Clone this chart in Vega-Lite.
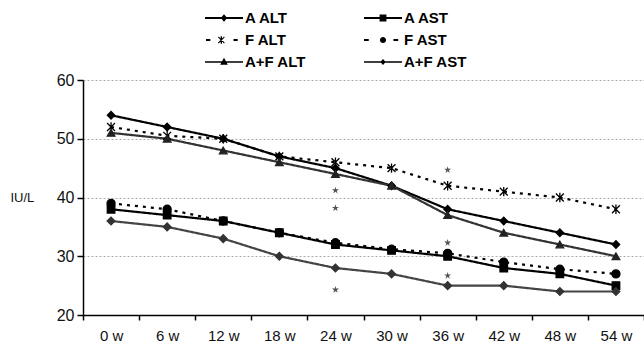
{
  "$schema": "https://vega.github.io/schema/vega-lite/v6.json",
  "width": 561,
  "height": 235,
  "autosize": "none",
  "padding": {"left": 83, "top": 80, "right": 0, "bottom": 39},
  "background": "white",
  "config": {"view": {"stroke": null}, "font": "Liberation Sans"},
  "datasets": {
    "main": [
      {"week": "0 w", "series": "A ALT", "value": 54},
      {"week": "6 w", "series": "A ALT", "value": 52},
      {"week": "12 w", "series": "A ALT", "value": 50},
      {"week": "18 w", "series": "A ALT", "value": 47},
      {"week": "24 w", "series": "A ALT", "value": 45},
      {"week": "30 w", "series": "A ALT", "value": 42},
      {"week": "36 w", "series": "A ALT", "value": 38},
      {"week": "42 w", "series": "A ALT", "value": 36},
      {"week": "48 w", "series": "A ALT", "value": 34},
      {"week": "54 w", "series": "A ALT", "value": 32},
      {"week": "0 w", "series": "A AST", "value": 38},
      {"week": "6 w", "series": "A AST", "value": 37},
      {"week": "12 w", "series": "A AST", "value": 36},
      {"week": "18 w", "series": "A AST", "value": 34},
      {"week": "24 w", "series": "A AST", "value": 32},
      {"week": "30 w", "series": "A AST", "value": 31},
      {"week": "36 w", "series": "A AST", "value": 30},
      {"week": "42 w", "series": "A AST", "value": 28},
      {"week": "48 w", "series": "A AST", "value": 27},
      {"week": "54 w", "series": "A AST", "value": 25},
      {"week": "0 w", "series": "F ALT", "value": 52},
      {"week": "6 w", "series": "F ALT", "value": 50.5},
      {"week": "12 w", "series": "F ALT", "value": 50},
      {"week": "18 w", "series": "F ALT", "value": 47},
      {"week": "24 w", "series": "F ALT", "value": 46},
      {"week": "30 w", "series": "F ALT", "value": 45},
      {"week": "36 w", "series": "F ALT", "value": 42},
      {"week": "42 w", "series": "F ALT", "value": 41},
      {"week": "48 w", "series": "F ALT", "value": 40},
      {"week": "54 w", "series": "F ALT", "value": 38},
      {"week": "0 w", "series": "F AST", "value": 39},
      {"week": "6 w", "series": "F AST", "value": 38},
      {"week": "12 w", "series": "F AST", "value": 36},
      {"week": "18 w", "series": "F AST", "value": 34},
      {"week": "24 w", "series": "F AST", "value": 32.3},
      {"week": "30 w", "series": "F AST", "value": 31.2},
      {"week": "36 w", "series": "F AST", "value": 30.5},
      {"week": "42 w", "series": "F AST", "value": 29},
      {"week": "48 w", "series": "F AST", "value": 27.8},
      {"week": "54 w", "series": "F AST", "value": 27},
      {"week": "0 w", "series": "A+F ALT", "value": 51},
      {"week": "6 w", "series": "A+F ALT", "value": 50},
      {"week": "12 w", "series": "A+F ALT", "value": 48},
      {"week": "18 w", "series": "A+F ALT", "value": 46},
      {"week": "24 w", "series": "A+F ALT", "value": 44},
      {"week": "30 w", "series": "A+F ALT", "value": 42},
      {"week": "36 w", "series": "A+F ALT", "value": 37},
      {"week": "42 w", "series": "A+F ALT", "value": 34},
      {"week": "48 w", "series": "A+F ALT", "value": 32},
      {"week": "54 w", "series": "A+F ALT", "value": 30},
      {"week": "0 w", "series": "A+F AST", "value": 36},
      {"week": "6 w", "series": "A+F AST", "value": 35},
      {"week": "12 w", "series": "A+F AST", "value": 33},
      {"week": "18 w", "series": "A+F AST", "value": 30},
      {"week": "24 w", "series": "A+F AST", "value": 28},
      {"week": "30 w", "series": "A+F AST", "value": 27},
      {"week": "36 w", "series": "A+F AST", "value": 25},
      {"week": "42 w", "series": "A+F AST", "value": 25},
      {"week": "48 w", "series": "A+F AST", "value": 24},
      {"week": "54 w", "series": "A+F AST", "value": 24}
    ],
    "stars": [
      {"week": "24 w", "value": 41.2},
      {"week": "24 w", "value": 38.2},
      {"week": "24 w", "value": 24.3},
      {"week": "36 w", "value": 44.7},
      {"week": "36 w", "value": 32.3},
      {"week": "36 w", "value": 26.7}
    ]
  },
  "encoding": {
    "x": {
      "field": "week", "type": "ordinal",
      "sort": ["0 w", "6 w", "12 w", "18 w", "24 w", "30 w", "36 w", "42 w", "48 w", "54 w"],
      "scale": {"type": "band", "paddingInner": 0, "paddingOuter": 0},
      "bandPosition": 0.5,
      "axis": {
        "title": null, "labelAngle": 0, "tickBand": "extent", "grid": false,
        "domainColor": "black", "domainWidth": 1.5, "tickColor": "black", "tickWidth": 1.5, "tickSize": 5,
        "labelFontSize": 15, "labelColor": "#111", "labelPadding": 8
      }
    },
    "y": {
      "field": "value", "type": "quantitative",
      "scale": {"domain": [20, 60]},
      "axis": {
        "values": [20, 30, 40, 50, 60],
        "title": "IU/L", "titleAngle": 0, "titleX": -73, "titleY": 117,
        "titleAlign": "left", "titleBaseline": "middle", "titleFontWeight": "normal",
        "titleFontSize": 13, "titleColor": "#111",
        "grid": true, "gridDash": [2, 2], "gridColor": "#aaa",
        "domainColor": "black", "domainWidth": 1.5, "tickColor": "black", "tickWidth": 1.5, "tickSize": 6,
        "labelFontSize": 16, "labelColor": "#111", "labelPadding": 3
      }
    }
  },
  "resolve": {"scale": {"shape": "independent"}},
  "layer": [
    {
      "data": {"name": "main"},
      "mark": {"type": "line", "strokeCap": "butt"},
      "encoding": {
        "detail": {"field": "series"},
        "color": {
          "field": "series", "type": "nominal", "legend": null,
          "scale": {"domain": ["A ALT", "A AST", "A+F ALT", "A+F AST", "F ALT", "F AST"],
                    "range": ["#000000", "#000000", "#333333", "#444444", "#000000", "#000000"]}
        },
        "strokeDash": {
          "field": "series", "type": "nominal", "legend": null,
          "scale": {"domain": ["A ALT", "A AST", "A+F ALT", "A+F AST", "F ALT", "F AST"],
                    "range": [[1, 0], [1, 0], [1, 0], [1, 0], [3, 5], [3, 5]]}
        },
        "strokeWidth": {
          "field": "series", "type": "nominal", "legend": null,
          "scale": {"domain": ["A ALT", "A AST", "A+F ALT", "A+F AST", "F ALT", "F AST"],
                    "range": [2.2, 2.2, 2, 1.8, 2.6, 2.6]}
        }
      }
    },
    {
      "data": {"name": "main"},
      "mark": {"type": "point", "filled": true, "opacity": 1, "strokeWidth": 1.3},
      "encoding": {
        "shape": {
          "field": "series", "type": "nominal", "legend": null,
          "scale": {"domain": ["A ALT", "A AST", "A+F ALT", "A+F AST", "F ALT", "F AST"],
                    "range": ["diamond", "square", "triangle-up", "diamond", "M-1,-1L1,1M-1,1L1,-1M0,-1.2V1.2", "circle"]}
        },
        "fill": {
          "field": "series", "type": "nominal", "legend": null,
          "scale": {"domain": ["A ALT", "A AST", "A+F ALT", "A+F AST", "F ALT", "F AST"],
                    "range": ["#000000", "#000000", "#222222", "#333333", "#000000", "#000000"]}
        },
        "stroke": {
          "field": "series", "type": "nominal", "legend": null,
          "scale": {"domain": ["A ALT", "A AST", "A+F ALT", "A+F AST", "F ALT", "F AST"],
                    "range": ["#000000", "#000000", "#222222", "#333333", "#000000", "#000000"]}
        },
        "size": {
          "field": "series", "type": "nominal", "legend": null,
          "scale": {"domain": ["A ALT", "A AST", "A+F ALT", "A+F AST", "F ALT", "F AST"],
                    "range": [55, 64, 60, 45, 70, 55]}
        }
      }
    },
    {
      "data": {"name": "main"},
      "mark": {"type": "point", "filled": true, "opacity": 0, "color": "black"},
      "encoding": {
        "shape": {
          "field": "series", "type": "nominal",
          "scale": {"domain": ["A ALT", "A AST", "F ALT", "F AST", "A+F ALT", "A+F AST"],
                    "range": [
                      "M-1,-0.05H1V0.05H-1ZM0,-0.2L0.17,0L0,0.2L-0.17,0Z",
                      "M-1,-0.05H1V0.05H-1ZM-0.18,-0.18H0.18V0.18H-0.18Z",
                      "M-0.95,-0.05H-0.72V0.05H-0.95ZM0.5,-0.05H0.72V0.05H0.5ZM-0.175,-0.2H-0.105V0.2H-0.175ZM-0.32,-0.14L-0.28,-0.18L0.04,0.14L0,0.18ZM-0.32,0.14L0,-0.18L0.04,-0.14L-0.28,0.18Z",
                      "M-1,-0.05H-0.75V0.05H-1ZM0.55,-0.05H0.8V0.05H0.55ZM-0.16,0A0.16,0.16 0 1,0 0.16,0A0.16,0.16 0 1,0 -0.16,0Z",
                      "M-1,-0.045H1V0.045H-1ZM0,-0.22L0.2,0.15L-0.2,0.15Z",
                      "M-1,-0.04H1V0.04H-1ZM0,-0.16L0.14,0L0,0.16L-0.14,0Z"
                    ]},
          "legend": {
            "orient": "none", "legendX": 122, "legendY": -73, "columns": 2, "direction": "horizontal",
            "columnPadding": 58, "rowPadding": 0, "clipHeight": 22, "title": null,
            "labelFontSize": 15, "labelFontWeight": "bold", "labelColor": "black", "labelOffset": 2,
            "labelFont": "Liberation Sans", "symbolSize": 1444,
            "symbolOpacity": 1, "symbolFillColor": "black", "symbolStrokeColor": "black", "symbolStrokeWidth": 0
          }
        }
      }
    },
    {
      "data": {"name": "stars"},
      "mark": {
        "type": "point", "filled": true, "opacity": 1, "color": "#555555", "size": 55,
        "shape": "M0,-1L0.224,-0.309L0.951,-0.309L0.363,0.118L0.588,0.809L0,0.382L-0.588,0.809L-0.363,0.118L-0.951,-0.309L-0.224,-0.309Z"
      },
      "encoding": {}
    }
  ]
}
